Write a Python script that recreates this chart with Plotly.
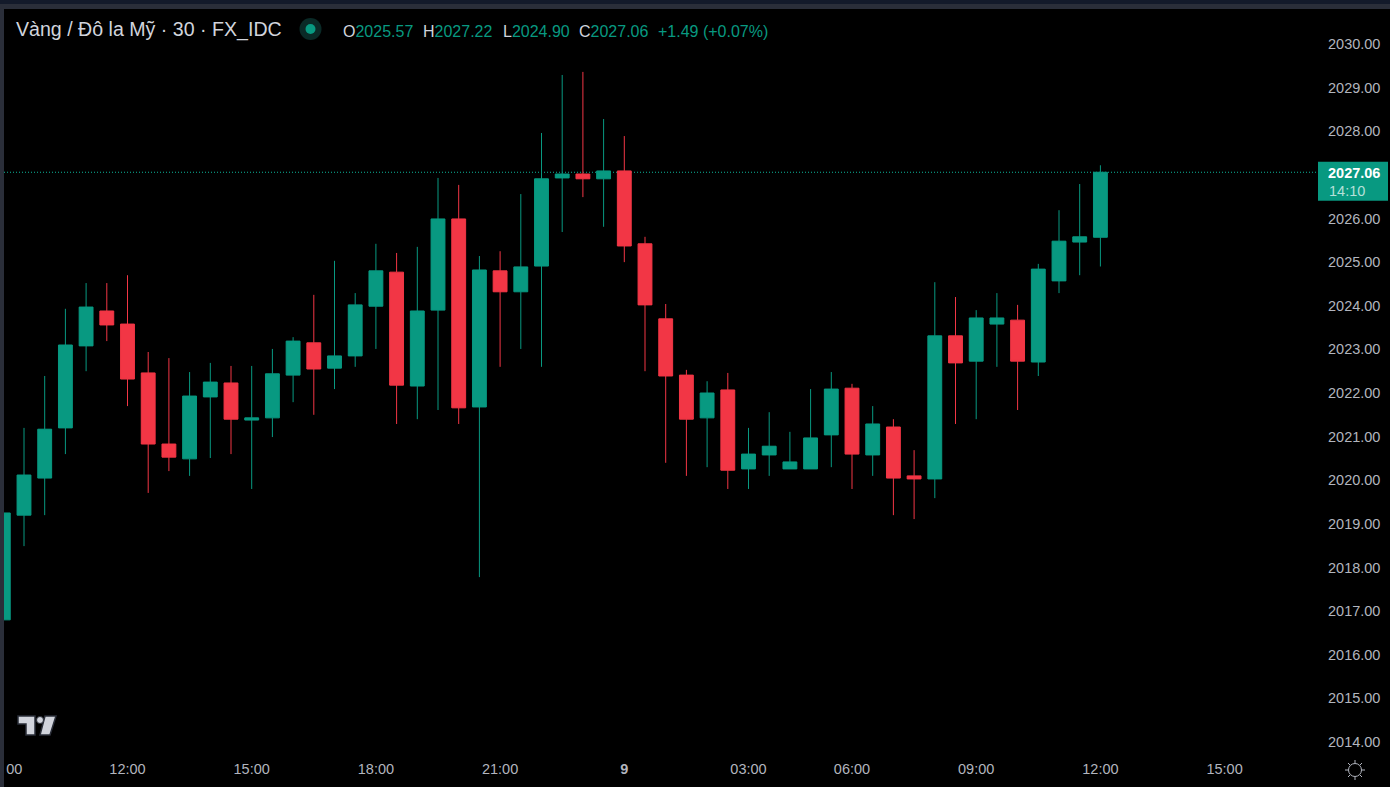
import plotly.graph_objects as go

# ---- data (USD, 30-minute bars; index 0 = 12:00 on the 8th) ----
bar_index = list(range(-6, 48))
opens = [2016.80, 2019.20, 2020.05, 2021.20, 2023.08, 2023.88, 2023.58, 2022.46, 2020.83, 2020.49,
         2021.91, 2022.23, 2021.38, 2021.43, 2022.41, 2023.15, 2022.57, 2022.85, 2023.99, 2024.77,
         2022.16, 2023.90, 2025.99, 2021.68, 2024.80, 2024.32, 2024.91, 2026.93, 2027.02, 2026.91,
         2027.09, 2025.42, 2023.70, 2022.41, 2021.43, 2022.07, 2020.26, 2020.58, 2020.26, 2020.26,
         2021.04, 2022.11, 2020.58, 2021.22, 2020.10, 2020.03, 2023.31, 2022.73, 2023.58, 2023.67,
         2022.71, 2024.57, 2025.46, 2025.57]
highs = [2019.25, 2021.20, 2022.39, 2023.93, 2024.52, 2024.52, 2024.70, 2022.94, 2022.80, 2022.48,
         2022.69, 2022.62, 2022.62, 2023.01, 2023.28, 2024.25, 2025.03, 2024.29, 2025.42, 2025.21,
         2025.35, 2026.93, 2026.77, 2025.14, 2025.25, 2026.56, 2027.96, 2029.29, 2029.36, 2028.28,
         2027.89, 2025.58, 2024.04, 2022.53, 2022.27, 2022.46, 2021.20, 2021.56, 2021.11, 2022.09,
         2022.48, 2022.21, 2021.70, 2021.40, 2020.69, 2024.54, 2024.20, 2023.90, 2024.29, 2024.02,
         2024.96, 2026.19, 2026.79, 2027.22]
lows = [2016.80, 2018.49, 2019.20, 2020.60, 2022.50, 2023.19, 2021.70, 2019.71, 2020.21, 2020.10,
        2020.51, 2020.60, 2019.80, 2020.99, 2021.79, 2021.50, 2022.09, 2022.60, 2023.01, 2021.29,
        2021.40, 2021.61, 2021.29, 2017.78, 2022.60, 2023.01, 2022.60, 2025.69, 2026.49, 2025.81,
        2025.00, 2022.50, 2020.40, 2020.10, 2020.30, 2019.80, 2019.80, 2020.10, 2020.26, 2020.26,
        2020.30, 2019.80, 2020.10, 2019.20, 2019.11, 2019.59, 2021.29, 2021.40, 2022.60, 2021.61,
        2022.39, 2024.29, 2024.70, 2024.90]
closes = [2019.25, 2020.12, 2021.17, 2023.10, 2023.97, 2023.56, 2022.32, 2020.83, 2020.53, 2021.93,
          2022.25, 2021.40, 2021.43, 2022.44, 2023.19, 2022.55, 2022.85, 2024.02, 2024.80, 2022.18,
          2023.88, 2025.99, 2021.66, 2024.82, 2024.32, 2024.89, 2026.91, 2027.02, 2026.91, 2027.09,
          2025.37, 2024.02, 2022.39, 2021.40, 2022.00, 2020.23, 2020.60, 2020.78, 2020.42, 2020.97,
          2022.09, 2020.60, 2021.29, 2020.05, 2020.03, 2023.31, 2022.69, 2023.72, 2023.72, 2022.73,
          2024.84, 2025.48, 2025.58, 2027.06]

x_tick_positions = [-5.47, 0, 6, 12, 18, 24, 30, 35, 41, 47, 53]
x_tick_labels = ["00", "12:00", "15:00", "18:00", "21:00", "<b>9</b>", "03:00", "06:00", "09:00", "12:00", "15:00"]
y_ticks = list(range(2014, 2031))

title_text = "Vàng / Đô la Mỹ · 30 · FX_IDC"
legend_names = ["O", "H", "L", "C"]
legend_values = ["2025.57", "2027.22", "2024.90", "2027.06"]
change_text = "+1.49 (+0.07%)"
last_price = 2027.06
countdown = "14:10"

# ---- style / frame ----
UP = "#089981"
DOWN = "#F23645"
TXT = "#B2B5BE"
FONT = "'Liberation Sans', Arial, sans-serif"
W, H = 1390, 787
L, R, T, B = 4, 1318, 9, 750


def px(v):
    return (v - L) / (R - L)


def py(v):
    return 1 - (v - T) / (B - T)


def poly(points):
    return "M" + " L".join(f"{px(a):.5f},{py(b):.5f}" for a, b in points) + " Z"


fig = go.Figure(go.Candlestick(
    x=bar_index, open=opens, high=highs, low=lows, close=closes,
    increasing=dict(line=dict(color=UP, width=1), fillcolor=UP),
    decreasing=dict(line=dict(color=DOWN, width=1), fillcolor=DOWN),
    whiskerwidth=0, hoverinfo="skip", showlegend=False,
))

shapes = [
    # dotted last-price line
    dict(type="line", xref="paper", x0=0, x1=1, yref="y", y0=last_price, y1=last_price,
         line=dict(color="#0CB59A", width=1, dash="1px,2px"), layer="below"),
    # price tag
    dict(type="rect", xref="paper", yref="y", xsizemode="pixel", ysizemode="pixel",
         xanchor=1, yanchor=last_price, x0=0, x1=70, y0=10.5, y1=-28.5,
         fillcolor=UP, line_width=0, layer="above"),
    # window frame
    dict(type="rect", xref="paper", yref="paper", x0=px(0), x1=px(W), y0=py(0), y1=py(4),
         fillcolor="#131A2A", line_width=0),
    dict(type="rect", xref="paper", yref="paper", x0=px(0), x1=px(W), y0=py(4), y1=py(9),
         fillcolor="#2A2E39", line_width=0),
    dict(type="rect", xref="paper", yref="paper", x0=px(0), x1=px(4), y0=py(4), y1=py(H),
         fillcolor="#2A2E39", line_width=0),
    # status dot
    dict(type="circle", xref="paper", yref="paper", x0=px(299.5), x1=px(321.5), y0=py(18), y1=py(40),
         fillcolor="#0A2A27", line_width=0),
    dict(type="circle", xref="paper", yref="paper", x0=px(305.5), x1=px(315.5), y0=py(24), y1=py(34),
         fillcolor=UP, line_width=0),
    # logo
    dict(type="path", xref="paper", yref="paper", fillcolor="#D1D4DC",
         line=dict(color="#2A2E39", width=1.5),
         path=poly([(18, 716), (35, 716), (35, 735), (26, 735), (26, 724), (18, 724)])),
    dict(type="path", xref="paper", yref="paper", fillcolor="#D1D4DC",
         line=dict(color="#2A2E39", width=1.5),
         path=poly([(45, 716), (56, 716), (50, 735), (40, 735)])),
    dict(type="circle", xref="paper", yref="paper", x0=px(36.5), x1=px(43.5), y0=py(716.5), y1=py(723.5),
         fillcolor="#D1D4DC", line=dict(color="#2A2E39", width=1)),
    # theme sun icon
    dict(type="circle", xref="paper", yref="paper", x0=px(1348.5), x1=px(1361.5), y0=py(763.5), y1=py(776.5),
         fillcolor="rgba(0,0,0,0)", line=dict(color=TXT, width=1)),
]
for a, b, c, d in [(1355, 760, 1355, 763), (1355, 777, 1355, 780), (1345, 770, 1348, 770), (1362, 770, 1365, 770),
                   (1348, 763, 1350, 765), (1360, 775, 1362, 777), (1362, 763, 1360, 765), (1350, 775, 1348, 777)]:
    shapes.append(dict(type="line", xref="paper", yref="paper", x0=px(a), y0=py(b), x1=px(c), y1=py(d),
                       line=dict(color=TXT, width=1)))

annotations = [
    dict(text=title_text, x=px(14.5), y=py(29.5), font=dict(size=19.6, color="#D1D4DC", family=FONT)),
    dict(text=change_text, x=px(657), y=py(31.5), font=dict(size=16, color=UP, family=FONT)),
    dict(text=f"<b>{last_price:.2f}</b>", x=px(1327), y=py(172.5), font=dict(size=14.5, color="#FFFFFF", family=FONT)),
    dict(text=countdown, x=px(1328), y=py(190.5), font=dict(size=14.5, color="#B5E0D9", family=FONT)),
]
for name, val, xp in zip(legend_names, legend_values, [341.5, 421.5, 501.5, 577.5]):
    annotations.append(dict(
        text=f'{name}<span style="color:{UP}">{val}</span>', x=px(xp), y=py(31.5),
        font=dict(size=16, color="#D1D4DC", family=FONT)))
for a in annotations:
    a.update(xref="paper", yref="paper", xanchor="left", yanchor="middle", showarrow=False, borderpad=0)

PX_PER_BAR = 20.7
PX_PER_USD = 43.625
fig.update_layout(
    width=W, height=H, autosize=False,
    margin=dict(l=L, r=W - R, t=T, b=H - B, pad=0),
    paper_bgcolor="#000000", plot_bgcolor="#000000",
    boxgap=0.33, boxgroupgap=0,
    showlegend=False,
    shapes=shapes, annotations=annotations,
    font=dict(family=FONT, color=TXT, size=14.5),
    xaxis=dict(
        range=[(L - 127.5) / PX_PER_BAR, (R - 127.5) / PX_PER_BAR],
        tickmode="array", tickvals=x_tick_positions, ticktext=x_tick_labels,
        showgrid=False, zeroline=False, showline=False, ticks="",
        rangeslider=dict(visible=False), ticklabelstandoff=8,
        tickfont=dict(size=14.5, color=TXT, family=FONT), tickangle=0,
    ),
    yaxis=dict(
        side="right",
        range=[2030 - (B - 44) / PX_PER_USD, 2030 + (44 - T) / PX_PER_USD],
        tickmode="array", tickvals=y_ticks, ticktext=[f"{v:.2f}" for v in y_ticks],
        showgrid=False, zeroline=False, showline=False, ticks="",
        ticklabelstandoff=9,
        tickfont=dict(size=14.5, color=TXT, family=FONT),
    ),
)

fig.write_html(
    "out.html",
    config={"displayModeBar": False, "responsive": False},
    post_script="document.body.style.margin='0';document.body.style.background='#000';document.body.style.overflow='hidden';",
)
